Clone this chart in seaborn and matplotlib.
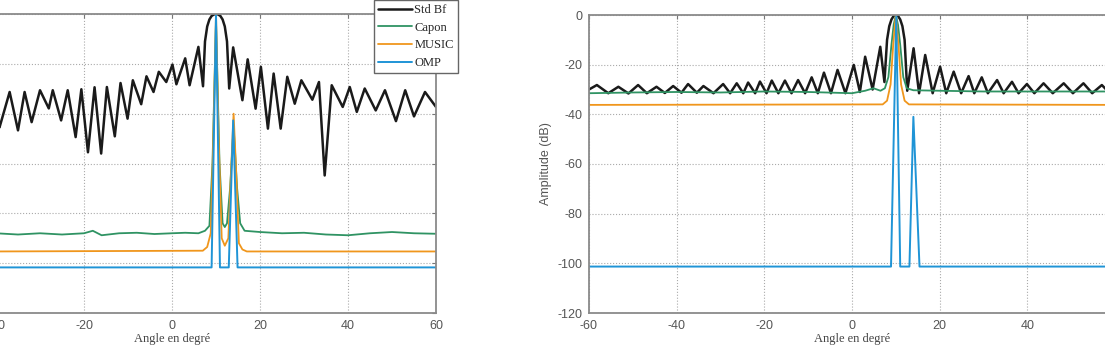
import pandas as pd
import matplotlib.pyplot as plt
import seaborn as sns

sns.set_style('white')
plt.rcParams['axes.unicode_minus'] = False
plt.rcParams['font.family'] = ['Liberation Sans', 'DejaVu Sans']

# ---- left panel data (angle in degrees, amplitude in dB)
left_bf_ang = [-40, -39.2, -36.9, -35.0, -33.5, -31.9, -30.0, -28.0, -27.1, -25.2, -23.7,
               -21.9, -20.6, -19.1, -17.6, -16.1, -14.8, -13.0, -11.7, -10.1, -8.9, -7.0,
               -5.8, -4.2, -3.0, -1.3, 0.1, 1.0, 3.0, 4.0, 6.0, 7.05, 7.5, 8.0, 8.5, 9.0,
               9.5, 10.0, 10.5, 11.0, 11.5, 12.0, 12.5, 13.0, 13.9, 16.0, 17.2, 19.0, 20.2,
               21.8, 23.1, 24.7, 26.2, 27.9, 29.4, 31.9, 33.4, 34.7, 36.3, 38.8, 40.4, 42.0,
               43.8, 46.3, 48.4, 50.9, 53.0, 55.0, 57.5, 60.0]
left_bf_db = [-38, -45.5, -31.3, -46.7, -31.3, -43.4, -30.6, -37.9, -30.6, -42.7, -30.6,
              -49.4, -30.2, -55.5, -29.4, -56.0, -29.3, -49.1, -27.7, -42.0, -26.6, -36.2,
              -25.0, -31.3, -23.2, -27.3, -20.3, -28.2, -17.8, -28.6, -13.2, -29.0, -11, -5,
              -2.2, -0.8, -0.2, 0, -0.2, -0.8, -2.2, -5, -11, -29.9, -13.4, -34.6, -18.2,
              -38.0, -21.2, -46.0, -23.9, -46.0, -25.2, -36.0, -26.6, -34.4, -27.3, -64.8,
              -28.6, -37.3, -29.3, -39.3, -29.9, -38.7, -30.6, -43.0, -30.6, -41.1, -31.3,
              -37.3]

left_capon_ang = [-40, -35, -30, -25, -20, -18, -16, -12, -8, -4, 0, 3, 6, 7.5, 8.5, 9.2, 10,
                  10.8, 11.5, 12.0, 12.5, 13.2, 14, 14.8, 15.5, 16.5, 20, 25, 30, 35, 40, 45,
                  50, 55, 60]
left_capon_db = [-88, -88.5, -88, -88.5, -88, -87, -88.8, -88, -87.8, -88.3, -88, -87.8, -88,
                 -87, -85, -60, -3, -60, -84, -85.5, -84, -70, -45, -70, -84, -87, -87.5, -88,
                 -87.8, -88.5, -88.8, -88, -87.5, -88, -88.2]

left_music_ang = [-40, 7.0, 8.0, 8.8, 9.4, 10, 10.6, 11.3, 12.0, 12.8, 13.5, 14, 14.5, 15.2,
                  16.0, 17, 60]
left_music_db = [-95.3, -95, -93.5, -88, -50, 0, -50, -90, -93, -90, -60, -40, -60, -92,
                 -94.5, -95.3, -95.3]

left_omp_ang = [-60, 9.0, 10.0, 10.9, 12.9, 13.9, 14.9, 60]
left_omp_db = [-101.7, -101.7, 0, -101.7, -101.7, -42.7, -101.7, -101.7]

# ---- right panel data
right_bf_ang = [-60, -58.2, -55.6, -53.3, -51.0, -48.8, -46.8, -44.6, -42.7, -40.8, -38.9,
                -37.4, -35.4, -33.9, -31.6, -29.4, -27.8, -26.3, -24.8, -23.7, -22.1, -21.0,
                -19.5, -18.3, -16.8, -15.3, -13.8, -12.3, -10.7, -9.2, -7.8, -6.4, -4.8, -3.3,
                -1.5, 0.4, 1.8, 3.0, 4.7, 6.45, 7.4, 8.0, 8.5, 9.0, 9.5, 10.0, 10.5, 11.0,
                11.5, 12.0, 12.6, 14.05, 15.3, 16.7, 18.4, 20.1, 21.5, 23.2, 24.9, 26.6, 27.9,
                29.6, 31.0, 33.1, 34.6, 36.5, 38.0, 39.9, 41.6, 43.7, 45.8, 48.3, 50.4, 52.8,
                54.8, 57.0, 58.8, 60]
right_bf_db = [-30.0, -28.2, -31.5, -28.9, -31.6, -28.2, -31.5, -28.9, -31.4, -28.6, -31.3,
               -27.8, -31.3, -28.6, -31.5, -27.8, -31.5, -27.5, -31.5, -27.2, -31.5, -26.8,
               -31.5, -26.4, -31.5, -26.4, -31.5, -26.2, -31.5, -25.1, -31.5, -23.2, -31.5,
               -22.1, -31.5, -20.1, -31.0, -16.8, -30.0, -12.8, -27.0, -10, -4.5, -1.8, -0.4,
               0, -0.4, -1.8, -4.5, -10, -30.5, -13.4, -31.5, -16.1, -31.5, -20.8, -31.5,
               -22.8, -31.5, -24.6, -31.5, -25.1, -31.5, -26.2, -31.5, -26.9, -31.5, -27.8,
               -31.5, -27.5, -31.5, -27.5, -31.5, -27.5, -31.5, -28.2, -31.5, -29.0]

right_capon_ang = [-60, -50, -40, -30, -20, -10, 0, 3, 4.9, 6.5, 7.5, 8.3, 9.0, 9.5, 10.0,
                   10.5, 11.0, 11.7, 12.5, 14, 20, 30, 40, 50, 60]
right_capon_db = [-31.5, -31.2, -31.0, -31.2, -30.8, -31.0, -31.5, -30.5, -29.5, -30.5, -29.5,
                  -25, -12, -4, 0, -4, -12, -25, -29.5, -30.3, -30.5, -30.8, -30.8, -30.8,
                  -30.8]

right_music_ang = [-60, 7.0, 8.0, 8.8, 9.4, 10, 10.6, 11.2, 12.0, 13.0, 60]
right_music_db = [-36.2, -36.0, -34.5, -28, -12, 0, -12, -28, -34.5, -36.0, -36.2]

right_omp_ang = [-60, 8.9, 10.1, 11.0, 13.1, 14.0, 15.4, 60]
right_omp_db = [-101.3, -101.3, 0, -101.3, -101.3, -41.0, -101.3, -101.3]

labels = ['Std Bf', 'Capon', 'MUSIC', 'OMP']
colors = ['#1a1a1a', '#2f9363', '#f0961c', '#1f94d6']
widths = [1.8, 1.3, 1.3, 1.4]

left_series = [(left_bf_ang, left_bf_db), (left_capon_ang, left_capon_db),
               (left_music_ang, left_music_db), (left_omp_ang, left_omp_db)]
right_series = [(right_bf_ang, right_bf_db), (right_capon_ang, right_capon_db),
                (right_music_ang, right_music_db), (right_omp_ang, right_omp_db)]

W, H = 1105, 346
fig = plt.figure(figsize=(W / 100, H / 100), dpi=100)
ax1 = fig.add_axes([-92 / W, 33 / H, 528 / W, 299 / H])
ax2 = fig.add_axes([589 / W, 33 / H, 526 / W, 298 / H])

for ax, series in [(ax1, left_series), (ax2, right_series)]:
    for (xs, ys), lab, col, lw in zip(series, labels, colors, widths):
        sns.lineplot(x=xs, y=ys, ax=ax, color=col, linewidth=lw, label=lab,
                     sort=False, estimator=None, legend=False)
    ax.set_xlim(-60, 60)
    ax.set_ylim(-120, 0)
    ax.set_xticks(range(-60, 61, 20))
    ax.set_yticks(range(-120, 1, 20))
    ax.grid(True, linestyle=':', color='#aaaaaa', linewidth=0.8)
    ax.tick_params(direction='in', length=3, labelsize=9, labelcolor='#555555',
                   color='#777777', top=True, right=True, pad=5)
    for sp in ax.spines.values():
        sp.set_color('#8a8a8a')
        sp.set_linewidth(1.3)
    ax.set_xlabel('Angle en degré', family=['Liberation Serif', 'DejaVu Serif'],
                  fontsize=9, color='#444444', labelpad=0.5)

ax2.set_ylabel('Amplitude (dB)', fontsize=9, color='#555555', labelpad=4)

ax1.legend(loc='lower left', bbox_to_anchor=(368 / W, (H - 79) / H),
           bbox_transform=fig.transFigure,
           prop={'family': 'Liberation Serif', 'size': 9},
           frameon=True, fancybox=False, edgecolor='#666666', framealpha=1,
           borderpad=0.3, labelspacing=0.45, handlelength=2.7, handletextpad=0.2)

plt.savefig('out.png', dpi=100)
